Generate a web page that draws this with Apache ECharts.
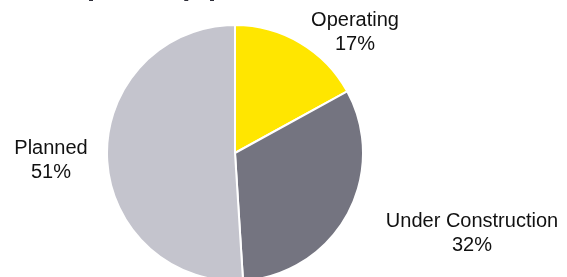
<!DOCTYPE html>
<html>
<head>
<meta charset="utf-8">
<script src="https://cdn.jsdelivr.net/npm/echarts@6/dist/echarts.min.js"></script>
<style>
html,body{margin:0;padding:0;background:#fff;}
#c{width:567px;height:277px;}
</style>
</head>
<body>
<div id="c"></div>
<script>
var titleText = 'Development pipeline';
var categories = ['Operating', 'Under Construction', 'Planned'];
var shares = [17, 32, 51];

var sliceColors = ['#FFE600', '#747480', '#C4C4CD'];
var labelOffsets = [[120, -121], [237, 80], [-184, 7]];
var pieCenter = [235, 153];

var chart = echarts.init(document.getElementById('c'), null, {renderer: 'canvas'});
chart.setOption({
  animation: false,
  backgroundColor: '#ffffff',
  graphic: [{
    type: 'text',
    x: -8,
    y: 1,
    silent: true,
    style: {
      text: titleText,
      fontFamily: 'Liberation Sans',
      fontWeight: 'bold',
      fontSize: 29,
      fill: '#2e2e38',
      align: 'left',
      verticalAlign: 'bottom'
    }
  }],
  series: [{
    type: 'pie',
    center: pieCenter,
    radius: 128,
    startAngle: 90,
    clockwise: true,
    avoidLabelOverlap: false,
    itemStyle: {borderColor: '#ffffff', borderWidth: 2},
    label: {
      show: true,
      position: 'outside',
      formatter: function (p) { return p.name + '\n' + p.value + '%'; },
      fontFamily: 'Liberation Sans',
      fontSize: 20,
      lineHeight: 24,
      color: '#111111',
      align: 'center'
    },
    labelLine: {show: false},
    labelLayout: function (params) {
      var o = labelOffsets[params.dataIndex];
      return {x: pieCenter[0] + o[0], y: pieCenter[1] + o[1], align: 'center', verticalAlign: 'middle'};
    },
    data: categories.map(function (c, i) {
      return {name: c, value: shares[i], itemStyle: {color: sliceColors[i]}};
    })
  }]
});
</script>
</body>
</html>
